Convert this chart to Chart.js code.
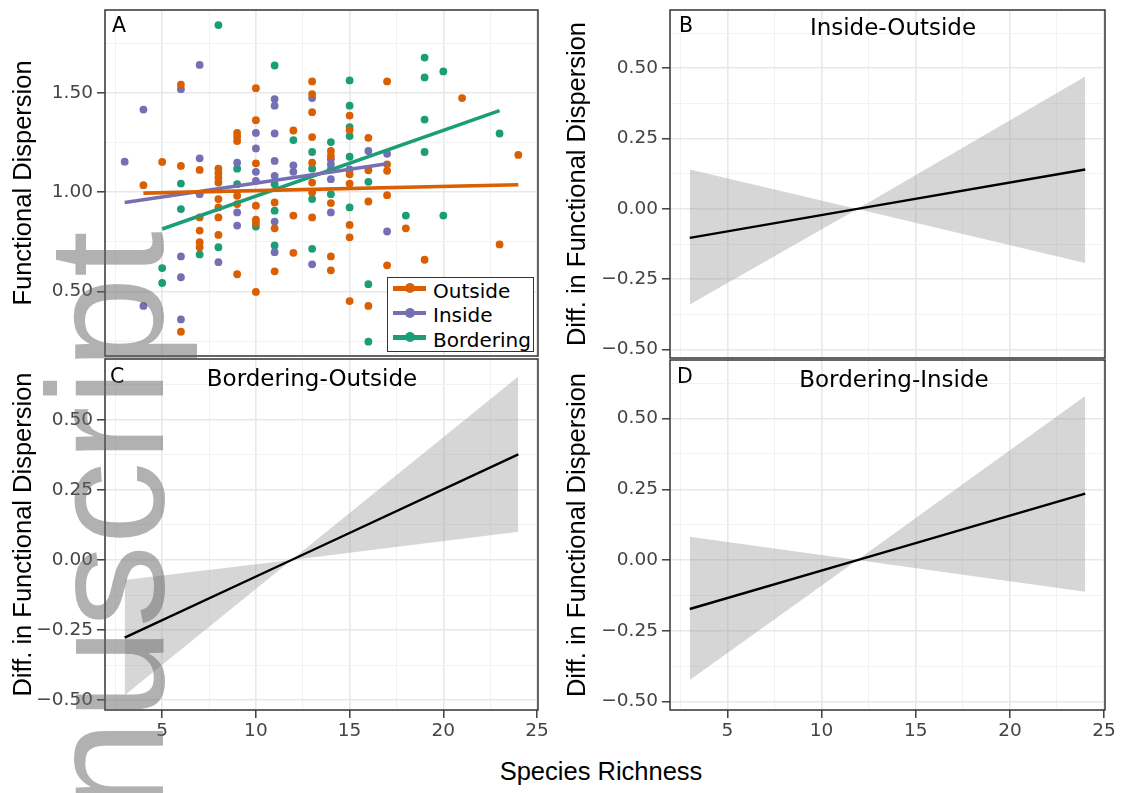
<!DOCTYPE html>
<html>
<head>
<meta charset="utf-8">
<title>Functional Dispersion vs Species Richness</title>
<script src="https://cdn.jsdelivr.net/npm/chart.js"></script>
<style>
  html, body { margin: 0; padding: 0; background: #fff; overflow: hidden; }
  body { width: 1122px; height: 793px; position: relative; font-family: 'Liberation Sans', Arial, sans-serif; }
  canvas { position: absolute; }
  .txt { position: absolute; line-height: 1; white-space: nowrap; color: #000; }
  .dv { font-family: 'DejaVu Sans', sans-serif; }
  #legend { position: absolute; left: 387px; top: 277px; width: 145px; height: 73px; border: 1.5px solid #333; background: #fff; }
  .row { position: absolute; left: 0; height: 24px; width: 145px; }
  .sym { position: absolute; left: 5px; top: 8px; width: 33px; height: 4.5px; }
  .dot { position: absolute; left: 11.5px; top: -2.75px; width: 10px; height: 10px; border-radius: 50%; }
  .lab { position: absolute; left: 45px; top: 2.6px; font-size: 20px; line-height: 1; font-family: 'DejaVu Sans', sans-serif; }
  #wm { position: absolute; left: 22.5px; top: 1043px; transform: rotate(-90deg); transform-origin: 0 0;
        font-size: 166px; line-height: 1; white-space: nowrap; color: rgba(100,100,100,0.5); pointer-events: none; z-index: 10; }
</style>
</head>
<body>
<canvas id="pA" width="560" height="360" style="left:0;top:0"></canvas>
<canvas id="pB" width="562" height="360" style="left:560px;top:0"></canvas>
<canvas id="pC" width="560" height="400" style="left:0;top:350px"></canvas>
<canvas id="pD" width="562" height="400" style="left:560px;top:350px"></canvas>
<div id="legend"></div>
<div id="wm">Manuscript</div>

<script>
// panel A: observed points per site group (x = species richness, y = functional dispersion)
const outsideX = [4, 5, 6, 6, 6, 7, 7, 7, 7, 7, 8, 8, 8, 8, 8, 8, 8, 8, 9, 9, 9, 9, 9, 9,
  10, 10, 10, 10, 10, 10, 10, 11, 11, 11, 12, 12, 12, 13, 13, 13, 13, 13, 13, 13, 13,
  14, 14, 14, 14, 14, 15, 15, 15, 15, 15, 15, 15, 16, 16, 16, 16, 17, 17, 17, 17, 17,
  18, 19, 21, 23, 24];
const outsideY = [1.035, 1.152, 1.54, 1.132, 0.298, 1.112, 0.873, 0.807, 0.748, 0.723,
  1.118, 1.095, 1.072, 1.048, 0.965, 0.923, 0.873, 0.785, 1.298, 1.278, 1.257, 0.982, 0.94, 0.587,
  1.523, 1.362, 1.145, 0.932, 0.862, 0.845, 0.498, 0.948, 0.818, 0.602, 1.31, 0.882, 0.695,
  1.557, 1.493, 1.402, 1.277, 1.148, 1.048, 0.998, 0.873, 1.207, 1.182, 0.945, 0.677, 0.607,
  1.385, 1.312, 1.09, 1.043, 0.835, 0.773, 0.452, 1.273, 1.11, 0.953, 0.428,
  1.557, 1.14, 1.107, 0.985, 0.632, 0.818, 0.66, 1.473, 0.737, 1.187];

const insideX = [3, 4, 4, 6, 6, 6, 6, 7, 7, 7, 8, 9, 9, 9, 10, 10, 10, 10,
  11, 11, 11, 11, 11, 11, 11, 12, 12, 13, 13, 14, 14, 14, 14, 14, 15, 16, 17, 17];
const insideY = [1.153, 1.415, 0.428, 1.518, 0.677, 0.572, 0.36, 1.64, 1.17, 0.99, 0.648,
  1.148, 0.898, 0.832, 1.298, 1.22, 1.102, 1.057, 1.468, 1.435, 1.295, 1.157, 1.082, 0.852, 0.698,
  1.135, 1.102, 1.473, 0.637, 1.165, 1.14, 1.115, 1.065, 0.898, 1.115, 1.207, 1.193, 0.802];

const borderingX = [5, 5, 6, 6, 7, 8, 8, 9, 9, 10, 11, 11, 11, 11, 12, 13, 13, 13, 13, 14, 14,
  15, 15, 15, 15, 15, 15, 16, 16, 16, 18, 19, 19, 19, 19, 20, 20, 23];
const borderingY = [0.618, 0.543, 1.043, 0.915, 0.687, 1.84, 0.723, 1.118, 1.04, 0.827,
  1.637, 1.04, 0.907, 0.732, 1.262, 1.202, 1.118, 0.965, 0.715, 1.252, 0.99,
  1.562, 1.435, 1.327, 1.282, 1.178, 0.923, 1.052, 0.537, 0.248, 0.882,
  1.677, 1.577, 1.365, 1.202, 1.607, 0.882, 1.295];

// panel A: linear fits
const outsideFitX = [4, 24], outsideFitY = [0.995, 1.037];
const insideFitX = [3, 17], insideFitY = [0.948, 1.143];
const borderingFitX = [5, 23], borderingFitY = [0.815, 1.41];

// panels B-D: fitted difference and its band (ends and the pinch point)
const diffX = [3, 11.9, 24];
const ioFit = [-0.103, 0, 0.140], ioUpper = [0.140, 0, 0.471], ioLower = [-0.34, 0, -0.192];
const boFit = [-0.277, 0, 0.377], boUpper = [-0.071, 0, 0.655], boLower = [-0.482, 0, 0.101];
const biFit = [-0.173, 0, 0.235], biUpper = [0.082, 0, 0.58], biLower = [-0.424, 0, -0.112];

// ticks (major + minor grid positions)
const xTicks = [2.5, 5, 7.5, 10, 12.5, 15, 17.5, 20, 22.5, 25];
const yTicksA = [0.25, 0.5, 0.75, 1.0, 1.25, 1.5, 1.75];
const yTicksDiff = [-0.5, -0.375, -0.25, -0.125, 0, 0.125, 0.25, 0.375, 0.5, 0.625];

const groups = ['Outside', 'Inside', 'Bordering'];
const colors = ['#D95F02', '#7570B3', '#1B9E77'];

Chart.defaults.font.family = "'Liberation Sans', Arial, sans-serif";
const tickFont = {family: "'DejaVu Sans', sans-serif", size: 18.5};

const pts = (xs, ys) => xs.map((x, i) => ({x: x, y: ys[i]}));
const isMajor = (v, step) => Math.abs(v / step - Math.round(v / step)) < 1e-6;
const fmt = v => v.toFixed(2).replace('-', '\u2212');

const frame = {
  id: 'frame',
  afterDatasetsDraw(chart) {
    const {ctx, chartArea: a} = chart;
    ctx.save();
    ctx.strokeStyle = '#333';
    ctx.lineWidth = 1.5;
    ctx.strokeRect(a.left, a.top, a.right - a.left, a.bottom - a.top);
    ctx.restore();
  }
};

function grid(step, ticks) {
  return {
    color: c => isMajor(c.tick.value, step) ? '#e8e8e8' : '#f2f2f2',
    lineWidth: c => isMajor(c.tick.value, step) ? 1.6 : 1,
    drawTicks: ticks,
    tickLength: 8,
    tickWidth: 1.4,
    tickColor: c => isMajor(c.tick.value, step) ? '#333' : 'rgba(0,0,0,0)'
  };
}

function xAxis(labels, height) {
  return {
    type: 'linear', min: 1.95, max: 25.05,
    afterBuildTicks: s => { s.ticks = xTicks.map(v => ({value: v})); },
    afterFit: s => { s.height = height; s.paddingLeft = 0; s.paddingRight = 0; },
    border: {display: false},
    grid: grid(5, labels),
    ticks: {display: labels, padding: 2, color: '#444', font: tickFont,
      maxRotation: 0, autoSkip: false,
      callback: v => isMajor(v, 5) ? String(v) : ''}
  };
}

function yAxis(min, max, ticks, step, width, title, pad) {
  return {
    type: 'linear', min: min, max: max,
    afterBuildTicks: s => { s.ticks = ticks.map(v => ({value: v})); },
    afterFit: s => { s.width = width; s.paddingTop = 0; s.paddingBottom = 0; },
    border: {display: false},
    grid: grid(step, true),
    ticks: {padding: 4, color: '#444', font: tickFont, autoSkip: false,
      callback: v => isMajor(v, step) ? fmt(v) : ''},
    title: {display: true, text: title, color: '#000', font: {size: 25.5}, padding: {top: pad, bottom: 0}}
  };
}

function makeChart(id, datasets, x, y, padding) {
  return new Chart(document.getElementById(id), {
    type: 'line',
    data: {datasets: datasets},
    options: {
      responsive: false, animation: false, devicePixelRatio: 1, events: [],
      layout: {padding: padding},
      plugins: {legend: {display: false}, tooltip: {enabled: false}},
      scales: {x: x, y: y}
    },
    plugins: [frame]
  });
}

// panel A
const fitsA = [[outsideFitX, outsideFitY], [insideFitX, insideFitY], [borderingFitX, borderingFitY]];
const rawA = [[outsideX, outsideY], [insideX, insideY], [borderingX, borderingY]];
const dsA = [];
fitsA.forEach((f, i) => dsA.push({data: pts(f[0], f[1]), borderColor: colors[i], borderWidth: 3.6,
  pointRadius: 0, order: 0}));
rawA.forEach((r, i) => dsA.push({data: pts(r[0], r[1]), showLine: false, backgroundColor: colors[i],
  borderWidth: 0, pointRadius: 3.9, order: 1}));

makeChart('pA', dsA, xAxis(false, 0),
  yAxis(0.176, 1.916, yTicksA, 0.5, 105, 'Functional Dispersion', 8.5),
  {top: 10, right: 22, bottom: 2, left: 0});

function diffSets(fit, upper, lower) {
  return [
    {data: pts(diffX, fit), borderColor: '#000', borderWidth: 2.4, pointRadius: 0},
    {data: pts(diffX, upper), borderWidth: 0, borderColor: 'rgba(0,0,0,0)', pointRadius: 0,
      backgroundColor: 'rgba(153,153,153,0.4)', fill: '+1'},
    {data: pts(diffX, lower), borderWidth: 0, borderColor: 'rgba(0,0,0,0)', pointRadius: 0}
  ];
}

makeChart('pB', diffSets(ioFit, ioUpper, ioLower), xAxis(false, 0),
  yAxis(-0.53, 0.707, yTicksDiff, 0.25, 110, 'Diff. in Functional Dispersion', 2.7),
  {top: 10, right: 17, bottom: 2, left: 0});

makeChart('pC', diffSets(boFit, boUpper, boLower), xAxis(true, 40),
  yAxis(-0.535, 0.717, yTicksDiff, 0.25, 105, 'Diff. in Functional Dispersion', 8.5),
  {top: 9, right: 22, bottom: 0, left: 0});

makeChart('pD', diffSets(biFit, biUpper, biLower), xAxis(true, 40),
  yAxis(-0.53, 0.707, yTicksDiff, 0.25, 110, 'Diff. in Functional Dispersion', 2.7),
  {top: 10, right: 17, bottom: 0, left: 0});

// legend for panel A
const legend = document.getElementById('legend');
groups.forEach((g, i) => {
  const row = document.createElement('div');
  row.className = 'row';
  row.style.top = (i * 24.5) + 'px';
  row.innerHTML = '<div class="sym" style="background:' + colors[i] + '"><div class="dot" style="background:' +
    colors[i] + '"></div></div><div class="lab">' + g + '</div>';
  legend.appendChild(row);
});

// text placed by baseline
function label(text, x, baseline, size, center) {
  const d = document.createElement('div');
  d.className = 'txt dv';
  d.textContent = text;
  d.style.fontSize = size + 'px';
  d.style.top = (baseline - 0.846 * size) + 'px';
  d.style.left = x + 'px';
  if (center) d.style.transform = 'translateX(-50%)';
  document.body.appendChild(d);
  return d;
}
label('A', 112, 32, 20.5, false);
label('B', 679, 32, 20.5, false);
label('C', 110, 383, 20.5, false);
label('D', 677, 383, 20.5, false);
label('Inside-Outside', 893, 35, 23, true);
label('Bordering-Outside', 312, 386.5, 23, true);
label('Bordering-Inside', 894, 387, 23, true);
label('Species Richness', 601, 781, 25.5, true).className = 'txt';
</script>
</body>
</html>
